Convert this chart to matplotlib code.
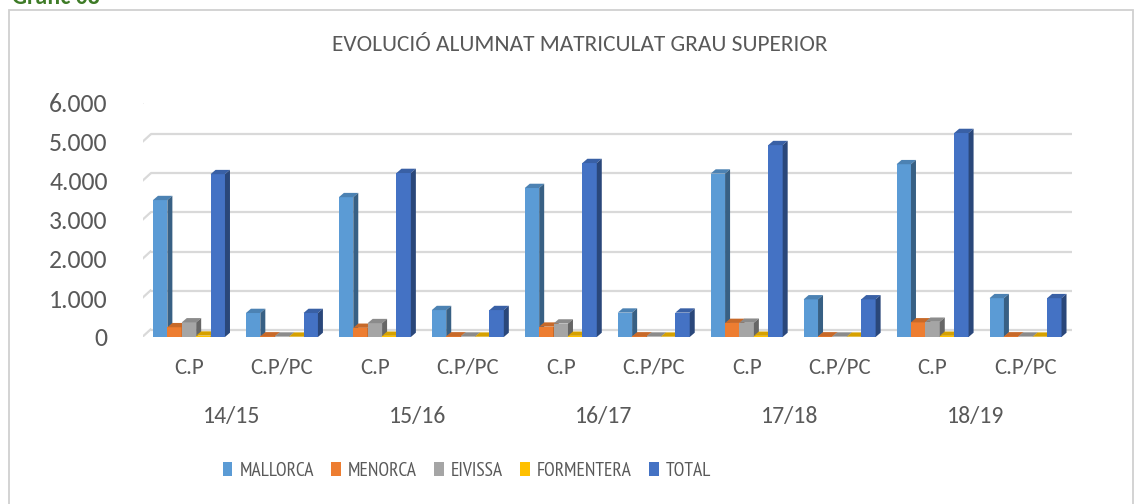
import matplotlib
matplotlib.use("Agg")
import matplotlib.pyplot as plt
from matplotlib.patches import Polygon, Rectangle
from matplotlib.lines import Line2D
from matplotlib.transforms import blended_transform_factory, offset_copy
from matplotlib import font_manager
import numpy as np

# ---- data -------------------------------------------------------------
years = ["14/15", "15/16", "16/17", "17/18", "18/19"]
types = ["C.P", "C.P/PC"]
series = ["MALLORCA", "MENORCA", "EIVISSA", "FORMENTERA", "TOTAL"]

# one value per (year, type) pair: C.P then C.P/PC for each year
mallorca = [3510, 615, 3585, 690, 3820, 625, 4190, 965, 4430, 995]
menorca = [250, 15, 235, 15, 265, 15, 360, 15, 375, 15]
eivissa = [375, 10, 355, 10, 345, 10, 365, 10, 390, 10]
formentera = [35, 8, 30, 8, 30, 8, 30, 8, 30, 8]
total = [4175, 615, 4205, 690, 4460, 625, 4920, 965, 5230, 995]

yticks = [0, 1000, 2000, 3000, 4000, 5000, 6000]
ytick_labels = ["0", "1.000", "2.000", "3.000", "4.000", "5.000", "6.000"]

colors = ["#5B9BD5", "#ED7D31", "#A5A5A5", "#FFC000", "#4472C4"]
title = "EVOLUCIÓ ALUMNAT MATRICULAT GRAU SUPERIOR"

# ---- fonts ------------------------------------------------------------
available = {f.name for f in font_manager.fontManager.ttflist}
FONT = "Carlito" if "Carlito" in available else "Lato"
LEG_FONT = "PT Sans Narrow" if "PT Sans Narrow" in available else FONT

# ---- figure / axes ----------------------------------------------------
W, H = 1136, 504
fig = plt.figure(figsize=(W / 100, H / 100), dpi=100)
fig.patch.set_facecolor("white")

ax_l, ax_r = 142.5, 1072.0       # plot area (front plane of the bars), px
ax_top, ax_bot = 103.0, 337.0
ax = fig.add_axes([ax_l / W, 1 - ax_bot / H, (ax_r - ax_l) / W, (ax_bot - ax_top) / H])
ncat = len(years) * len(types)
ax.set_xlim(-0.5, ncat - 0.5)
ax.set_ylim(0, 6000)
ax.set_facecolor("none")
for s in ax.spines.values():
    s.set_visible(False)

# pixel -> data unit conversions for the depth offsets
ux = (ax_r - ax_l) / ncat          # px per category
uy = (ax_bot - ax_top) / 6000.0    # px per unit value
def dx(px):
    return px / ux
def dy(px):
    return px / uy

grid_col = "#D9D9D9"
text_col = "#595959"

# back wall gridlines and the slanted side edges
back_x, back_y = dx(8.0), dy(7.5)
front_x, front_y = dx(-4.3), dy(-3.7)
x0, x1 = -0.5, ncat - 0.5
for v in yticks:
    ax.add_line(Line2D([x0 + back_x, x1 + back_x], [v + back_y, v + back_y],
                       color=grid_col, lw=1.6, zorder=1, solid_capstyle="butt"))
    ax.add_line(Line2D([x0 + front_x, x0 + back_x], [v + front_y, v + back_y],
                       color=grid_col, lw=1.6, zorder=1))

# ---- 3D-looking clustered columns --------------------------------------
values = [mallorca, menorca, eivissa, formentera, total]
nser = len(values)
bw = 14.4 / ux
side_x, side_y = dx(5.0), dy(4.3)

def shade(c, f):
    r, g, b = matplotlib.colors.to_rgb(c)
    return (r * f, g * f, b * f)

z = 5
for ci in range(ncat):
    for si in range(nser):
        v = values[si][ci]
        left = ci - nser * bw / 2 + si * bw
        col = colors[si]
        ax.bar(left, v, width=bw, align="edge", color=col, linewidth=0, zorder=z)
        top = Polygon([(left, v), (left + bw, v), (left + bw + side_x, v + side_y),
                       (left + side_x, v + side_y)], closed=True,
                      facecolor=shade(col, 0.84), edgecolor="none", zorder=z)
        side = Polygon([(left + bw, 0), (left + bw + side_x, side_y),
                        (left + bw + side_x, v + side_y), (left + bw, v)], closed=True,
                       facecolor=shade(col, 0.62), edgecolor="none", zorder=z)
        ax.add_patch(top)
        ax.add_patch(side)
        z += 1

# ---- axes labels ------------------------------------------------------
ax.set_yticks(yticks)
ax.set_yticklabels(ytick_labels, fontsize=18.5, color=text_col, family=FONT)
ax.tick_params(axis="y", length=0, pad=25)

cat_pos = np.arange(ncat)
ax.set_xticks(cat_pos)
ax.set_xticklabels(types * len(years), fontsize=16.5, color=text_col, family=FONT)
ax.tick_params(axis="x", length=0, pad=15)

btrans = blended_transform_factory(ax.transData, ax.transAxes)
ytrans = offset_copy(btrans, fig=fig, x=-4, y=-79, units="dots")
for i, yr in enumerate(years):
    ax.text(2 * i + 0.5, 0, yr, transform=ytrans, ha="center", va="center",
            fontsize=17, color=text_col, family=FONT)

# ---- title, legend, frame ---------------------------------------------
fig.text(580 / W, 1 - 45 / H, title, ha="center", va="center", fontsize=16.8,
         color=text_col, family=FONT)

handles = [Rectangle((0, 0), 1, 1, facecolor=c, edgecolor="none") for c in colors]
fig.legend(handles, series, loc="center", bbox_to_anchor=(467 / W, 1 - 471 / H),
           ncol=5, frameon=False, handlelength=0.5, handleheight=0.7,
           handletextpad=0.35, columnspacing=0.9,
           prop={"family": LEG_FONT, "size": 14}, labelcolor=text_col)

fig.add_artist(Rectangle((9 / W, -0.05), (1133 - 9) / W, 1.05 - 10 / H,
                         transform=fig.transFigure, facecolor="none",
                         edgecolor="#D0D0D0", lw=1.3))
fig.text(12 / W, 1 - 4 / H, "Gràfic 08", ha="left", va="baseline", fontsize=17,
         color="#3E7B27", family=FONT, fontweight="bold")

fig.savefig("out.png", dpi=100, facecolor="white")
